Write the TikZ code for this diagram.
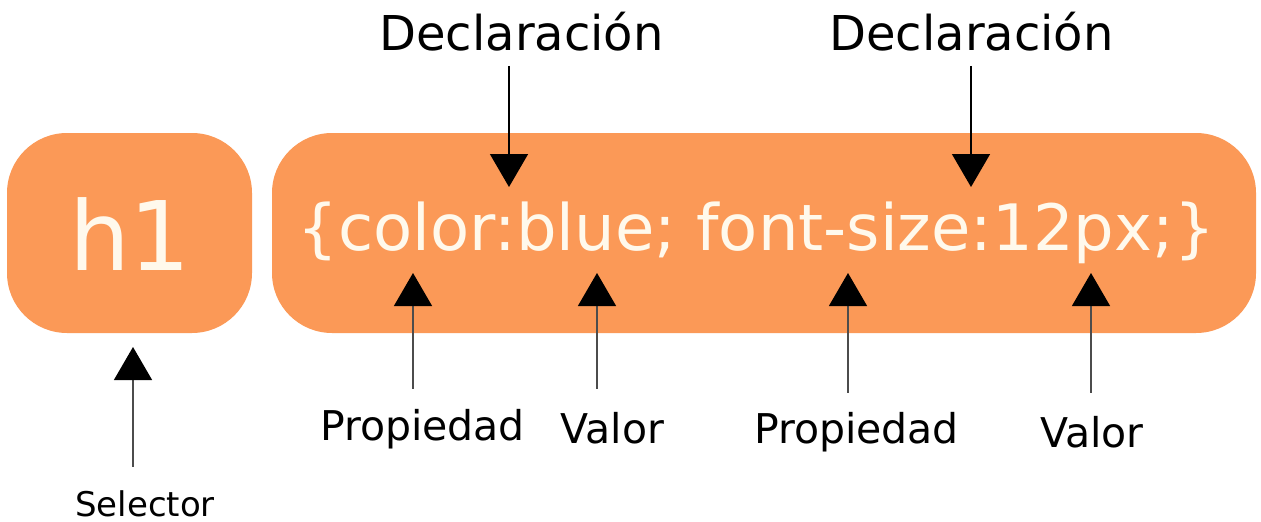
\documentclass[tikz,border=0pt]{standalone}
\usepackage{fontspec}
\setmainfont{DejaVu Sans}
\usepackage{tikz}
\usetikzlibrary{arrows.meta}

\definecolor{cssorange}{RGB}{251,153,87}
\definecolor{csstext}{RGB}{255,249,236}

\begin{document}
\begin{tikzpicture}[x=1pt, y=-1pt,
    box/.style={fill=cssorange, rounded corners=60pt, inner sep=0pt},
    code/.style={text=csstext, anchor=base, inner sep=0pt},
    lbl/.style={anchor=base, inner sep=0pt},
    down/.style={line width=1.5pt, -{Triangle[width=38pt, length=33pt]}},
    up/.style={line width=1.3pt, black!70, -{Triangle[width=38pt, length=33pt, color=black]}}]
\useasboundingbox (0, 0) rectangle (1261, 522);
\node[box, minimum width=245pt, minimum height=200pt] (selbox) at (129.5, 233) {};
\node[box, minimum width=984pt, minimum height=200pt] (rulebox) at (764, 233) {};
\node[code, font=\fontsize{96}{110}\selectfont] (sel) at (130, 270) {h1};
\node[code, font=\fontsize{64}{76}\selectfont] (rule) at (756, 250) {\{color:blue; font-size:12px;\}};

\node[lbl, font=\fontsize{48}{58}\selectfont] (decla) at (521.5, 50) {Declaración};
\node[lbl, font=\fontsize{48}{58}\selectfont] (declb) at (971.5, 50) {Declaración};
\node[lbl, font=\fontsize{41}{50}\selectfont] (propa) at (422.5, 440) {Propiedad};
\node[lbl, font=\fontsize{41}{50}\selectfont] (vala) at (612.5, 443) {Valor};
\node[lbl, font=\fontsize{41}{50}\selectfont] (propb) at (856.5, 443) {Propiedad};
\node[lbl, font=\fontsize{41}{50}\selectfont] (valb) at (1092, 447) {Valor};
\node[lbl, font=\fontsize{34}{41}\selectfont] (selector) at (145, 516) {Selector};

\coordinate (da) at (509, 187);
\coordinate (db) at (971, 187);
\coordinate (pa) at (413, 273);
\coordinate (va) at (597, 273);
\coordinate (pb) at (848, 273);
\coordinate (vb) at (1091, 273);
\coordinate (sa) at (133, 347);

\draw[down, shorten <=15pt] (da |- decla.south) -- (da);
\draw[down, shorten <=15pt] (db |- declb.south) -- (db);
\draw[up, shorten <=20pt] (pa |- propa.north) -- (pa);
\draw[up, shorten <=23pt] (va |- vala.north) -- (va);
\draw[up, shorten <=19pt] (pb |- propb.north) -- (pb);
\draw[up, shorten <=23pt] (vb |- valb.north) -- (vb);
\draw[up, shorten <=23pt] (sa |- selector.north) -- (sa);
\end{tikzpicture}
\end{document}
